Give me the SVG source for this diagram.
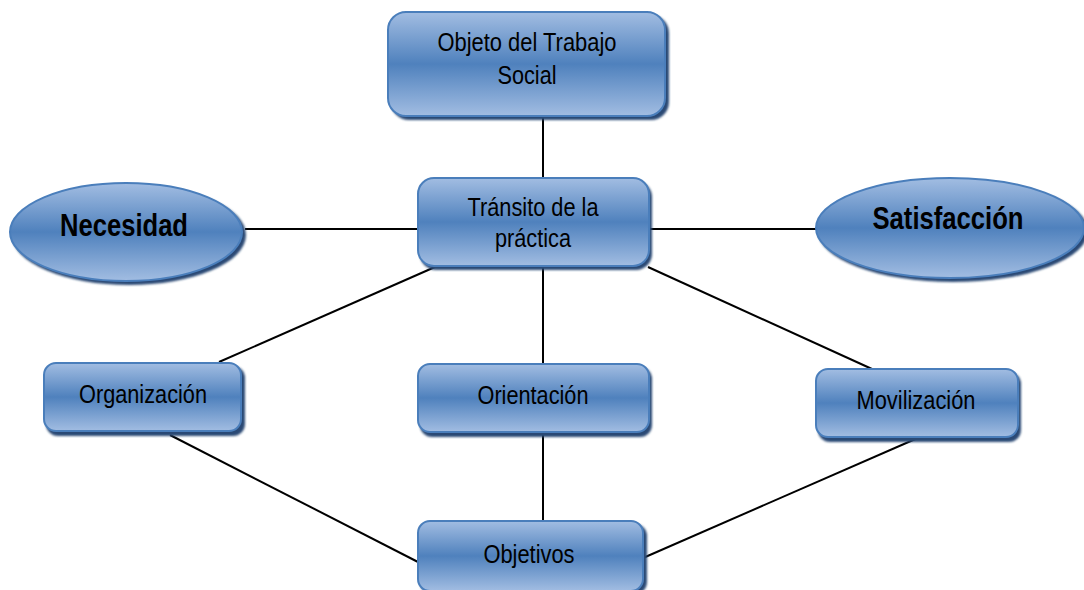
<svg xmlns="http://www.w3.org/2000/svg" width="1084" height="590" viewBox="0 0 1084 590">
<defs>
<linearGradient id="g" x1="0" y1="0" x2="0" y2="1">
<stop offset="0" stop-color="#A2BDE2"/>
<stop offset="0.5" stop-color="#4F81BD"/>
<stop offset="1" stop-color="#A2BDE2"/>
</linearGradient>
<filter id="sh" x="-10%" y="-10%" width="130%" height="130%">
<feGaussianBlur stdDeviation="1"/>
</filter>
</defs>
<style>
.box{fill:url(#g);stroke:#4A7EBB;stroke-width:2}
.shd{fill:#2C4A75;filter:url(#sh)}
.t{font-family:"Liberation Sans",Arial,sans-serif;font-size:26px;fill:#000;text-anchor:middle}
.b{font-family:"Liberation Sans",Arial,sans-serif;font-size:31px;font-weight:bold;fill:#000;text-anchor:middle}
.c line{stroke:#000;stroke-width:2}
</style>
<rect width="1084" height="590" fill="#fff"/>
<g class="c">
<line x1="543" y1="115" x2="543" y2="178"/>
<line x1="245" y1="229" x2="418" y2="229"/>
<line x1="648" y1="229" x2="816" y2="229"/>
<line x1="435" y1="267" x2="219" y2="362"/>
<line x1="543" y1="267" x2="543" y2="364"/>
<line x1="648" y1="267" x2="872" y2="369"/>
<line x1="170" y1="435" x2="418" y2="562"/>
<line x1="543" y1="433" x2="543" y2="521"/>
<line x1="920" y1="437" x2="643" y2="558"/>
</g>
<g id="objeto">
<rect class="shd" x="391" y="15" width="278" height="105" rx="18"/>
<rect class="box" x="388" y="12" width="277" height="104" rx="18"/>
<text class="t" x="527" y="51" textLength="179" lengthAdjust="spacingAndGlyphs">Objeto del Trabajo</text>
<text class="t" x="527" y="84" textLength="59" lengthAdjust="spacingAndGlyphs">Social</text>
</g>
<g id="necesidad">
<ellipse class="shd" cx="129" cy="235" rx="117" ry="50"/>
<ellipse class="box" cx="126" cy="232" rx="116" ry="49"/>
<text class="b" x="124" y="236" textLength="128" lengthAdjust="spacingAndGlyphs">Necesidad</text>
</g>
<g id="satisfaccion">
<ellipse class="shd" cx="953" cy="231" rx="135" ry="51"/>
<ellipse class="box" cx="950" cy="228" rx="134" ry="50"/>
<text class="b" x="948" y="229" textLength="151" lengthAdjust="spacingAndGlyphs">Satisfacción</text>
</g>
<g id="transito">
<rect class="shd" x="420" y="181" width="232" height="89" rx="16"/>
<rect class="box" x="418" y="178" width="231" height="88" rx="16"/>
<text class="t" x="533" y="216" textLength="131" lengthAdjust="spacingAndGlyphs">Tránsito de la</text>
<text class="t" x="533" y="247" textLength="76" lengthAdjust="spacingAndGlyphs">práctica</text>
</g>
<g id="organizacion">
<rect class="shd" x="46" y="366" width="199" height="70" rx="12"/>
<rect class="box" x="44" y="363" width="197" height="68" rx="12"/>
<text class="t" x="143" y="403" textLength="128" lengthAdjust="spacingAndGlyphs">Organización</text>
</g>
<g id="orientacion">
<rect class="shd" x="420" y="367" width="232" height="70" rx="12"/>
<rect class="box" x="418" y="364" width="231" height="68" rx="12"/>
<text class="t" x="533" y="404" textLength="111" lengthAdjust="spacingAndGlyphs">Orientación</text>
</g>
<g id="movilizacion">
<rect class="shd" x="818" y="372" width="203" height="70" rx="12"/>
<rect class="box" x="816" y="369" width="202" height="68" rx="12"/>
<text class="t" x="916" y="409" textLength="119" lengthAdjust="spacingAndGlyphs">Movilización</text>
</g>
<g id="objetivos">
<rect class="shd" x="420" y="524" width="227" height="70" rx="12"/>
<rect class="box" x="418" y="521" width="225" height="70" rx="12"/>
<text class="t" x="529" y="563" textLength="91" lengthAdjust="spacingAndGlyphs">Objetivos</text>
</g>
</svg>
